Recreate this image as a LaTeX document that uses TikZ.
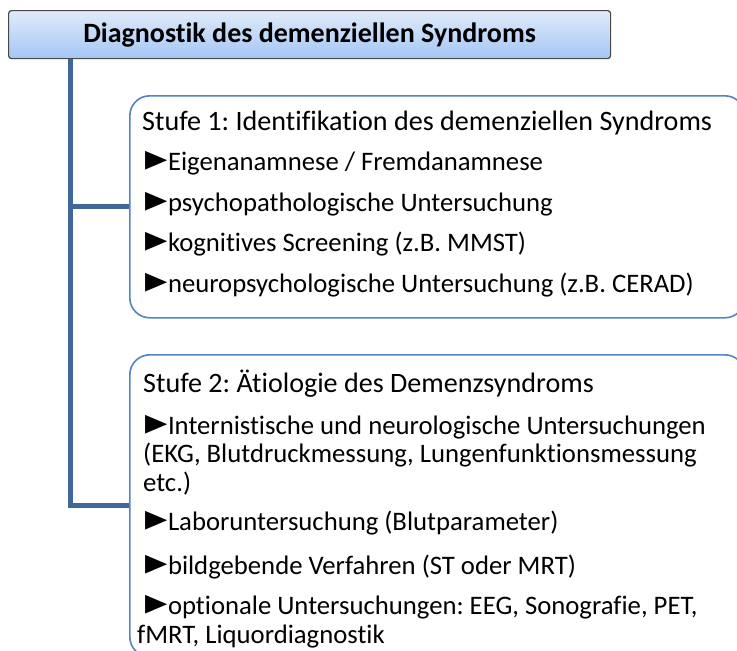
\documentclass[tikz,border=0pt]{standalone}
\usepackage{fontspec}
\setmainfont{Carlito}[Ligatures=NoCommon]
\newfontfamily\pointerfont{DejaVu Sans}

\definecolor{trunkblue}{RGB}{64,103,155}
\definecolor{stageblue}{RGB}{84,132,196}
\definecolor{headtop}{RGB}{224,235,250}
\definecolor{headbottom}{RGB}{164,198,246}
\definecolor{headline}{RGB}{72,72,72}

% black pointer in front of each item
\newcommand\itemmark{\scalebox{1}[1.3]{\pointerfont\fontsize{29}{29}\selectfont ►}\hspace{0.5pt}}

\tikzset{
  headbox/.style={draw=headline, line width=1.2pt, rounded corners=3pt,
    top color=headtop, bottom color=headbottom, inner sep=0pt,
    anchor=north west, minimum width=602pt, minimum height=48pt,
    font=\bfseries\fontsize{28}{32}\selectfont},
  stagebox/.style={draw=stageblue, line width=1.6pt, rounded corners=20pt,
    fill=white, inner sep=0pt, anchor=north west},
  trunk/.style={draw=trunkblue, line width=5pt},
  stagetitle/.style={anchor=base west, inner sep=0pt,
    font=\frenchspacing\fontsize{28.1}{32}\selectfont},
  stageitem/.style={anchor=base west, inner sep=0pt,
    font=\frenchspacing\fontsize{26.7}{30}\selectfont},
}

\begin{document}
\begin{tikzpicture}[x=1pt, y=-1pt]
  \useasboundingbox (0,0) rectangle (737,651);
  \clip (0,0) rectangle (737,651);

  % header
  \node[headbox] (head) at (8,10) {Diagnostik des demenziellen Syndroms};

  % the two stages
  \node[stagebox, minimum width=615pt, minimum height=222pt] (s1) at (129,95) {};
  \node[stagebox, minimum width=615pt, minimum height=302pt] (s2) at (129,354) {};

  % tree connectors
  \coordinate (tx) at (70,0);
  \draw[trunk] (head.south -| tx) |- (s2.west);
  \draw[trunk] (s1.west -| tx) -- (s1.west);

  % stage 1 text
  \node[stagetitle] (t1) at (142,130) {Stufe 1: Identifikation des demenziellen Syndroms};
  \node[stageitem] (a1) at (145,170) {\itemmark Eigenanamnese / Fremdanamnese};
  \node[stageitem] (a2) at (145,211) {\itemmark psychopathologische Untersuchung};
  \node[stageitem] (a3) at (145,251) {\itemmark kognitives Screening (z.B. MMST)};
  \node[stageitem] (a4) at (145,292) {\itemmark neuropsychologische Untersuchung (z.B. CERAD)};

  % stage 2 text
  \node[stagetitle] (t2) at (143,392) {Stufe 2: Ätiologie des Demenzsyndroms};
  \node[stageitem] (b1) at (145,434) {\itemmark Internistische und neurologische Untersuchungen};
  \node[stageitem] (b1b) at (143,462) {(EKG, Blutdruckmessung, Lungenfunktionsmessung};
  \node[stageitem] (b1c) at (143,491) {etc.)};
  \node[stageitem] (b2) at (145,530) {\itemmark Laboruntersuchung (Blutparameter)};
  \node[stageitem] (b3) at (145,574) {\itemmark bildgebende Verfahren (ST oder MRT)};
  \node[stageitem] (b4) at (145,614) {\itemmark optionale Untersuchungen: EEG, Sonografie, PET,};
  \node[stageitem] (b4b) at (137,643) {fMRT, Liquordiagnostik};
\end{tikzpicture}
\end{document}
